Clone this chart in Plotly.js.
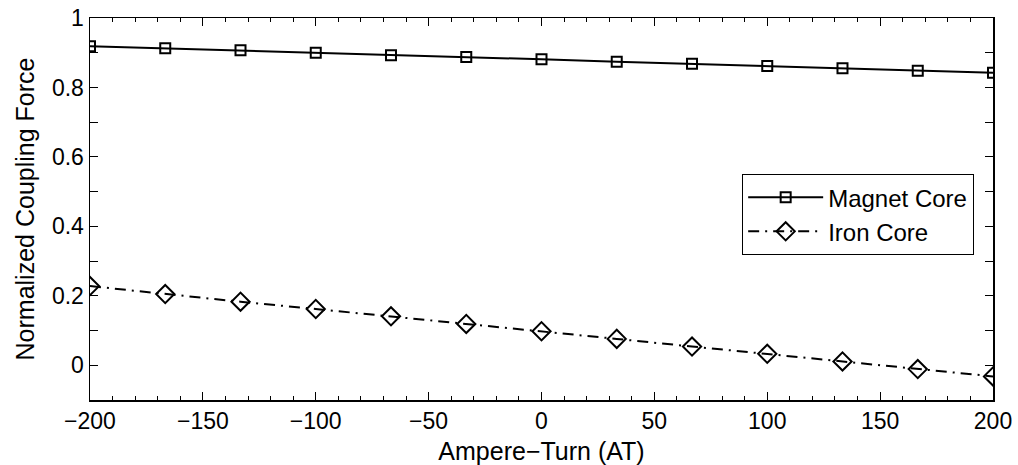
<!DOCTYPE html>
<html>
<head>
<meta charset="utf-8">
<script src="https://cdn.plot.ly/plotly-3.0.1.min.js"></script>
<style>html,body{margin:0;padding:0;background:#fff}#chart{width:1018px;height:465px}</style>
</head>
<body>
<div id="chart"></div>
<script>
const ampereTurn = [-200, -166.67, -133.33, -100, -66.67, -33.33, 0, 33.33, 66.67, 100, 133.33, 166.67, 200];
const magnetCore = [0.919, 0.913, 0.907, 0.900, 0.893, 0.888, 0.881, 0.874, 0.868, 0.862, 0.855, 0.848, 0.842];
const ironCore = [0.228, 0.205, 0.183, 0.162, 0.141, 0.119, 0.098, 0.076, 0.054, 0.033, 0.011, -0.011, -0.032];
const seriesNames = ["Magnet Core", "Iron Core"];
const xTickVals = [-200, -150, -100, -50, 0, 50, 100, 150, 200];
const yTickVals = [0, 0.2, 0.4, 0.6, 0.8, 1];

const font = "Liberation Sans, Arial, Helvetica, sans-serif";
const tickFs = 23;
const titleFs = 25;
const traces = [
  {x: ampereTurn, y: magnetCore, name: seriesNames[0], mode: "lines+markers", type: "scatter",
   line: {color: "#000", width: 2},
   marker: {symbol: "square-open", size: 10, color: "#000", line: {width: 2, color: "#000"}}},
  {x: ampereTurn, y: ironCore, name: seriesNames[1], mode: "lines+markers", type: "scatter",
   line: {color: "#000", width: 2, dash: "11px,6px,2px,6px"},
   marker: {symbol: "diamond-open", size: 14, color: "#000", line: {width: 2, color: "#000"}}}
];
const axisCommon = {
  showgrid: false, zeroline: false, showline: true, linecolor: "#000", linewidth: 1.5,
  mirror: "allticks", ticks: "inside", ticklen: 8, tickwidth: 1, tickcolor: "#000",
  tickfont: {family: font, size: tickFs, color: "#000"}
};
const layout = {
  width: 1018, height: 465,
  margin: {l: 90, r: 25, t: 18, b: 65, autoexpand: false},
  paper_bgcolor: "#fff", plot_bgcolor: "#fff",
  showlegend: true,
  legend: {x: 0.722, y: 0.592, xanchor: "left", yanchor: "top",
    bordercolor: "#000", borderwidth: 1.2, bgcolor: "#fff", itemwidth: 75,
    font: {family: font, size: 24, color: "#000"}, tracegroupgap: 0},
  xaxis: Object.assign({}, axisCommon, {
    automargin: false,
    range: [-200, 200], tickmode: "array", tickvals: xTickVals,
    minor: {dtick: 10, tick0: 0, ticks: "inside", ticklen: 4, tickcolor: "#000", tickwidth: 1},
    title: {text: "Ampere\u2212Turn (AT)", font: {family: font, size: titleFs, color: "#000"}}
  }),
  yaxis: Object.assign({}, axisCommon, {
    automargin: true,
    range: [-0.1, 1], tickmode: "array", tickvals: yTickVals,
    minor: {dtick: 0.1, tick0: 0, ticks: "inside", ticklen: 8, tickcolor: "#000", tickwidth: 1},
    title: {text: "Normalized Coupling Force", font: {family: font, size: titleFs, color: "#000"}, standoff: 10}
  })
};
Plotly.newPlot("chart", traces, layout, {displayModeBar: false, staticPlot: true});
</script>
</body>
</html>
